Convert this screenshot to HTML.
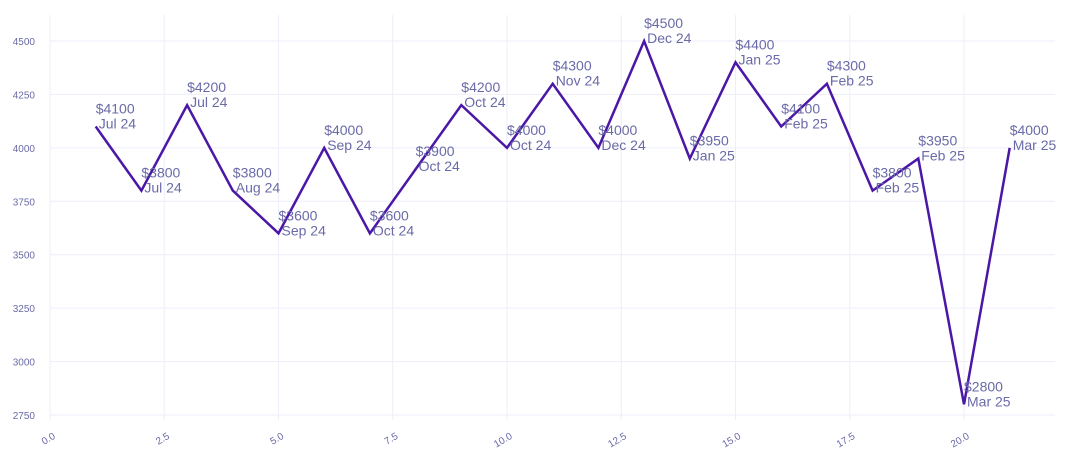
<!DOCTYPE html>
<html><head><meta charset="utf-8"><style>
body{margin:0;background:#fff;}
svg{display:block;font-family:"Liberation Sans",sans-serif;}
</style></head><body>
<svg id="chart" width="1075" height="467"></svg>
<script>
const xs=[1,2,3,4,5,6,7,8,9,10,11,12,13,14,15,16,17,18,19,20,21];
const prices=[4100,3800,4200,3800,3600,4000,3600,3900,4200,4000,4300,4000,4500,3950,4400,4100,4300,3800,3950,2800,4000];
const months=["Jul 24","Jul 24","Jul 24","Aug 24","Sep 24","Sep 24","Oct 24","Oct 24","Oct 24","Oct 24","Nov 24","Dec 24","Dec 24","Jan 25","Jan 25","Feb 25","Feb 25","Feb 25","Feb 25","Mar 25","Mar 25"];
const yTicks=[2750,3000,3250,3500,3750,4000,4250,4500];
const xTicks=[0,2.5,5,7.5,10,12.5,15,17.5,20];
const NS="http://www.w3.org/2000/svg";
const svg=document.getElementById('chart');
const X0=50,X1=1055,Y0=415,Y1=15;
const sx=v=>50+v*45.7;
const sy=v=>415-(v-2750)*(374/1750);
function mk(t,a){const e=document.createElementNS(NS,t);for(const k in a)e.setAttribute(k,a[k]);svg.appendChild(e);return e;}
yTicks.forEach(t=>{
  const g=mk('line',{x1:X0,x2:X1,y1:sy(t),y2:sy(t),stroke:'#eeeefa','stroke-width':1});
  
  
  const l=mk('text',{x:35,y:sy(t)+4,'text-anchor':'end','font-size':10,fill:'#6a6aa8'});
  l.textContent=t;
  
  
});
xTicks.forEach(t=>{
  const g=mk('line',{x1:sx(t),x2:sx(t),y1:Y1,y2:420,stroke:'#eeeefa','stroke-width':1});
  
  
  const l=mk('text',{x:sx(t)+6,y:438,'text-anchor':'end','font-size':10,fill:'#6a6aa8',transform:`rotate(-30 ${sx(t)+6} 438)`});
  l.textContent=t.toFixed(1);
  
  
});
const p=mk('polyline',{points:xs.map((x,i)=>sx(x)+','+sy(prices[i])).join(' '),fill:'none',stroke:'#4a17a6','stroke-width':2.5,'stroke-linejoin':'miter'});


xs.forEach((x,i)=>{
  const t=mk('text',{x:sx(x),y:sy(prices[i])-13,'font-size':14,fill:'#6a6aa8'});
  
  
  const a=document.createElementNS(NS,'tspan');a.setAttribute('x',sx(x));a.textContent='$'+prices[i];t.appendChild(a);
  const b=document.createElementNS(NS,'tspan');b.setAttribute('x',sx(x)+3);b.setAttribute('dy',15);b.textContent=months[i];t.appendChild(b);
});
</script>
</body></html>
